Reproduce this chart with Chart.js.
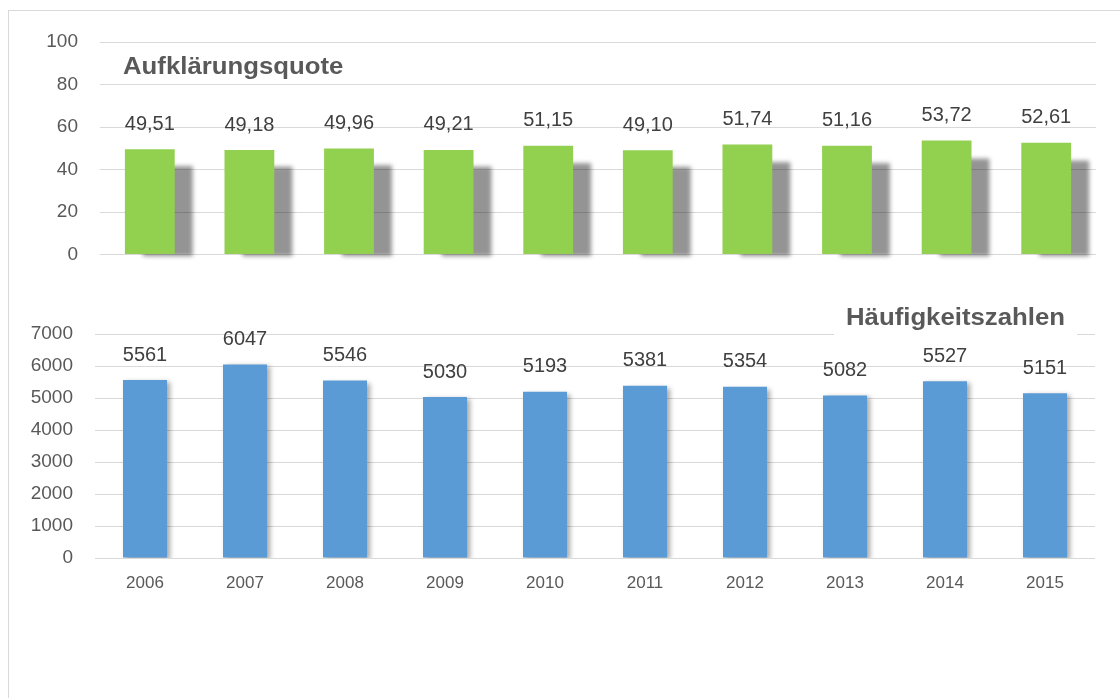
<!DOCTYPE html>
<html>
<head>
<meta charset="utf-8">
<script src="https://cdn.jsdelivr.net/npm/chart.js@4.4.1/dist/chart.umd.min.js"></script>
<style>
  html, body { margin: 0; padding: 0; background: #fff; }
  #wrap { position: relative; width: 1120px; height: 698px; overflow: hidden; }
  #frame { position: absolute; left: 8px; top: 10px; right: -2px; bottom: -2px; border-top: 1px solid #d9d9d9; border-left: 1px solid #d9d9d9; }
  canvas { position: absolute; left: 0; }
  #quote { top: 0; }
  #freq { top: 290px; }
</style>
</head>
<body>
<div id="wrap">
  <div id="frame"></div>
  <canvas id="quote" width="1120" height="288"></canvas>
  <canvas id="freq" width="1120" height="320"></canvas>
</div>
<script>
// values
const years = ['2006', '2007', '2008', '2009', '2010', '2011', '2012', '2013', '2014', '2015'];
const quoteValues = [49.51, 49.18, 49.96, 49.21, 51.15, 49.10, 51.74, 51.16, 53.72, 52.61];
const freqValues = [5561, 6047, 5546, 5030, 5193, 5381, 5354, 5082, 5527, 5151];
const quoteTicks = [0, 20, 40, 60, 80, 100];
const freqTicks = [0, 1000, 2000, 3000, 4000, 5000, 6000, 7000];
const quoteTitle = 'Aufklärungsquote';
const freqTitle = 'Häufigkeitszahlen';

const FONT = "'Liberation Sans', Arial, sans-serif";
const GRID = '#d9d9d9';
const TICK_COLOR = '#595959';

// gray "perspective" shadow behind the green bars
const perspectiveShadow = {
  id: 'perspectiveShadow',
  beforeDatasetsDraw(chart, args, opts) {
    if (!opts.enabled) return;
    const ctx = chart.ctx;
    const meta = chart.getDatasetMeta(0);
    ctx.save();
    ctx.filter = 'blur(2px)';
    ctx.fillStyle = 'rgba(0,0,0,0.42)';
    meta.data.forEach(bar => {
      const h = (bar.base - bar.y) * opts.scale;
      ctx.fillRect(bar.x - bar.width / 2 + opts.dx, bar.base - h, bar.width, h + 2);
    });
    ctx.restore();
  }
};

// soft drop shadow on the blue bars
const softShadow = {
  id: 'softShadow',
  beforeDatasetDraw(chart, args, opts) {
    if (!opts.enabled) return;
    const ctx = chart.ctx;
    ctx.save();
    ctx.shadowColor = 'rgba(0,0,0,0.35)';
    ctx.shadowBlur = 5;
    ctx.shadowOffsetX = 3;
    ctx.shadowOffsetY = 2;
  },
  afterDatasetDraw(chart, args, opts) {
    if (!opts.enabled) return;
    chart.ctx.restore();
  }
};

// value labels above the bars
const valueLabels = {
  id: 'valueLabels',
  afterDatasetsDraw(chart, args, opts) {
    const ctx = chart.ctx;
    const meta = chart.getDatasetMeta(0);
    const data = chart.data.datasets[0].data;
    ctx.save();
    ctx.font = opts.font;
    ctx.fillStyle = '#404040';
    ctx.textAlign = 'center';
    ctx.textBaseline = 'middle';
    meta.data.forEach((bar, i) => {
      ctx.fillText(opts.format(data[i]), bar.x, bar.y - opts.gap);
    });
    ctx.restore();
  }
};

// title placed inside the plot area (slightly widened like the original)
const innerTitle = {
  id: 'innerTitle',
  afterDraw(chart, args, opts) {
    const ctx = chart.ctx;
    const a = chart.chartArea;
    const sx = 1.12;
    ctx.save();
    ctx.font = 'bold 23px ' + FONT;
    ctx.textBaseline = 'middle';
    const w = ctx.measureText(opts.text).width * sx;
    const x = opts.align === 'right' ? a.right - opts.dx - w : a.left + opts.dx;
    const y = a.top + opts.dy;
    if (opts.box) {
      ctx.fillStyle = '#fff';
      ctx.fillRect(x - 12, y - 16, w + 24, 34);
    }
    ctx.fillStyle = TICK_COLOR;
    ctx.textAlign = 'left';
    ctx.translate(x, y);
    ctx.scale(sx, 1);
    ctx.fillText(opts.text, 0, 0);
    ctx.restore();
  }
};

function baseOptions(ticks, leftWidth, xHeight, showX) {
  return {
    responsive: false,
    animation: false,
    events: [],
    plugins: { legend: { display: false }, tooltip: { enabled: false } },
    scales: {
      x: {
        display: showX,
        grid: { display: false },
        border: { display: false },
        ticks: { color: TICK_COLOR, font: { family: FONT, size: 17 }, padding: 7 },
        afterFit: (s) => { s.height = xHeight; }
      },
      y: {
        min: ticks[0],
        max: ticks[ticks.length - 1],
        afterBuildTicks: (s) => { s.ticks = ticks.map(v => ({ value: v })); },
        grid: { color: GRID, lineWidth: 1, drawTicks: false },
        border: { display: false },
        ticks: { color: TICK_COLOR, font: { family: FONT, size: 19 }, padding: 22, callback: (v) => String(v) },
        afterFit: (s) => { s.width = leftWidth; }
      }
    }
  };
}

// y tick padding makes the axis keep ~34px below the plot, so the canvas is 288 tall
const quoteOpts = baseOptions(quoteTicks, 100, 0, false);
quoteOpts.layout = { padding: { top: 42, bottom: 0, right: 24, left: 0 } };
quoteOpts.plugins.perspectiveShadow = { enabled: true, dx: 18, scale: 0.84 };
quoteOpts.plugins.valueLabels = { font: '20px ' + FONT, gap: 25, format: v => v.toFixed(2).replace('.', ',') };
quoteOpts.plugins.innerTitle = { text: quoteTitle, align: 'left', dx: 23, dy: 26 };

new Chart(document.getElementById('quote'), {
  type: 'bar',
  data: {
    labels: years,
    datasets: [{ data: quoteValues, backgroundColor: '#92d050', categoryPercentage: 1, barPercentage: 0.5 }]
  },
  options: quoteOpts,
  plugins: [perspectiveShadow, valueLabels, innerTitle]
});

const freqOpts = baseOptions(freqTicks, 95, 52, true);
freqOpts.layout = { padding: { top: 44, bottom: 0, right: 25, left: 0 } };
freqOpts.plugins.softShadow = { enabled: true };
freqOpts.plugins.valueLabels = { font: '20px ' + FONT, gap: 25, format: v => String(v) };
freqOpts.plugins.innerTitle = { text: freqTitle, align: 'right', dx: 30, dy: -15, box: true };

new Chart(document.getElementById('freq'), {
  type: 'bar',
  data: {
    labels: years,
    datasets: [{ data: freqValues, backgroundColor: '#5b9bd5', categoryPercentage: 1, barPercentage: 0.44 }]
  },
  options: freqOpts,
  plugins: [softShadow, valueLabels, innerTitle]
});
</script>
</body>
</html>
